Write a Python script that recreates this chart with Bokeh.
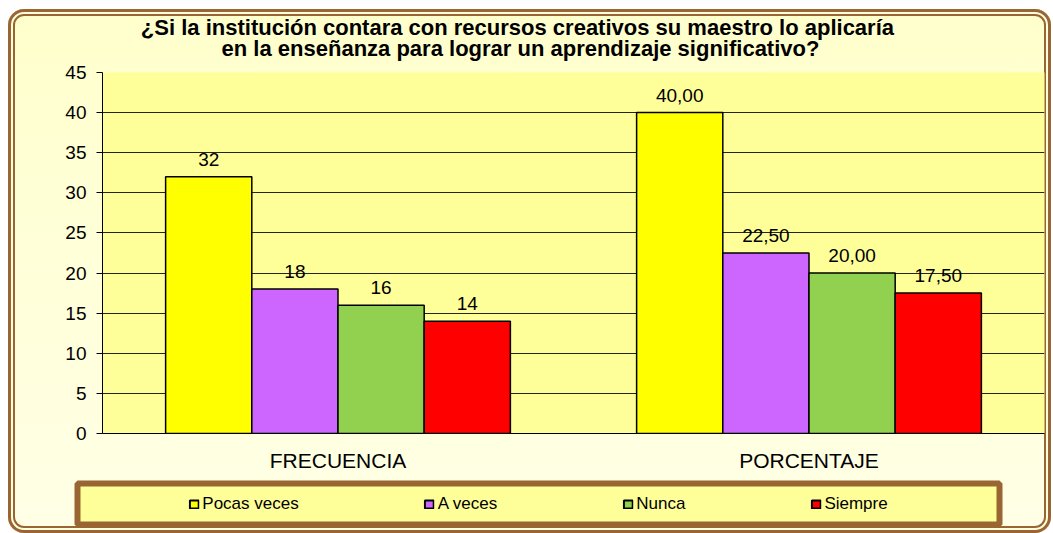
from bokeh.plotting import figure
from bokeh.models import (ColumnDataSource, FactorRange, Range1d, SingleIntervalTicker,
                          LabelSet, Label, Legend, LegendItem)
from bokeh.core.properties import value
from bokeh.transform import dodge
from bokeh.layouts import column
from bokeh.embed import file_html
from bokeh.resources import INLINE

# ---------------- data ----------------
categories = ["FRECUENCIA", "PORCENTAJE"]
series = ["Pocas veces", "A veces", "Nunca", "Siempre"]
pocas_veces = [32, 40.00]
a_veces = [18, 22.50]
nunca = [16, 20.00]
siempre = [14, 17.50]
values = [pocas_veces, a_veces, nunca, siempre]
colors = ["#FFFF00", "#CC66FF", "#92D050", "#FF0000"]
title_lines = ["¿Si la institución contara con recursos creativos su maestro  lo aplicaría",
               "en la enseñanza para lograr un aprendizaje significativo?"]

FONT = "Liberation Sans"
BROWN = "#996633"
W = 1043


def fmt(cat, v):
    if cat == "FRECUENCIA":
        return str(int(v))
    return f"{v:.2f}".replace(".", ",")


sources = [ColumnDataSource(dict(cat=categories, val=values[i],
                                 lbl=[fmt(c, v) for c, v in zip(categories, values[i])]))
           for i in range(len(series))]

# ---------------- title ----------------
TH = 52
tf = figure(width=W, height=TH, x_range=Range1d(0, W), y_range=Range1d(TH, 0),
            output_backend="svg", toolbar_location=None, frame_align=False,
            min_border_left=0, min_border_right=0, min_border_top=0, min_border_bottom=0,
            x_axis_location=None, y_axis_location=None)
tf.border_fill_alpha = 0
tf.background_fill_alpha = 0
tf.outline_line_color = None
tf.grid.visible = False
for k, line in enumerate(title_lines):
    tf.add_layout(Label(x=512, y=18 + 21 * k, text=line,
                        text_align="center", text_baseline="middle", text_font=FONT,
                        text_font_size="22px", text_font_style="bold", text_color="black"))

# ---------------- main chart ----------------
p = figure(x_range=FactorRange(*categories), y_range=Range1d(0, 45),
           width=W, height=413, output_backend="svg", toolbar_location=None, frame_align=False,
           min_border_left=94, min_border_right=7, min_border_top=11, min_border_bottom=37)
p.background_fill_color = "#FFFF99"
p.border_fill_alpha = 0
p.outline_line_color = None

bar_w = 0.183
for i, s in enumerate(series):
    off = (i - 1.5) * bar_w
    src = sources[i]
    p.vbar(x=dodge("cat", off, range=p.x_range), top="val", width=bar_w, source=src,
           fill_color=colors[i], line_color="black", line_width=1.5)
    p.add_layout(LabelSet(x=dodge("cat", off, range=p.x_range), y="val", text="lbl", source=src,
                          text_align="center", text_baseline="bottom", y_offset=11,
                          text_font=value(FONT), text_font_size="19px", text_color="black"))

p.yaxis.ticker = SingleIntervalTicker(interval=5)
p.yaxis.major_tick_out = 6
p.yaxis.major_tick_in = 0
p.yaxis.minor_tick_line_color = None
p.yaxis.major_label_standoff = 10
p.yaxis.axis_line_color = "black"
p.yaxis.major_label_text_font = FONT
p.yaxis.major_label_text_font_size = "19px"
p.yaxis.major_label_text_color = "black"

p.xaxis.major_tick_line_color = None
p.xaxis.major_label_standoff = 9
p.xaxis.axis_line_color = "black"
p.xaxis.major_label_text_font = FONT
p.xaxis.major_label_text_font_size = "21px"
p.xaxis.major_label_text_color = "black"

p.xgrid.grid_line_color = None
p.ygrid.grid_line_color = "black"
p.ygrid.grid_line_alpha = 0.85

# ---------------- legend box ----------------
# legend proxies: the same series as zero-size bars (nothing visible), used only by the legend
lf = figure(width=W, height=59, x_range=FactorRange(*categories), y_range=Range1d(0, 45),
            output_backend="svg", toolbar_location=None, frame_align=False,
            min_border_left=69, min_border_right=52, min_border_top=9, min_border_bottom=9,
            x_axis_location=None, y_axis_location=None)
lf.background_fill_color = "#FFFF99"
lf.border_fill_alpha = 0
lf.outline_line_color = BROWN
lf.outline_line_width = 6
lf.grid.visible = False

items = []
for i, s in enumerate(series):
    r = lf.vbar(x="cat", top="val", bottom="val", width=0, source=sources[i],
                fill_color=colors[i], line_color="black", line_width=2)
    items.append(LegendItem(label=s, renderers=[r]))
leg = Legend(items=items, location="center", orientation="horizontal", spacing=125,
             glyph_width=11, glyph_height=10, label_standoff=3, padding=0, margin=0,
             border_line_alpha=0, background_fill_alpha=0,
             label_text_font=FONT, label_text_font_size="17px", label_text_color="black")
lf.add_layout(leg)

frame_css = {
    "margin": "9px 0 0 8px",
    "border-radius": "16px",
    "background": "linear-gradient(#FFFFCC, #FFFFE6)",
    "box-shadow": f"inset 0 0 0 3px {BROWN}, inset 0 0 0 5px #FFFFDD, inset 0 0 0 7px {BROWN}",
}
layout = column(tf, p, lf, spacing=0, styles=frame_css)

open("out.html", "w").write(file_html(layout, INLINE))
